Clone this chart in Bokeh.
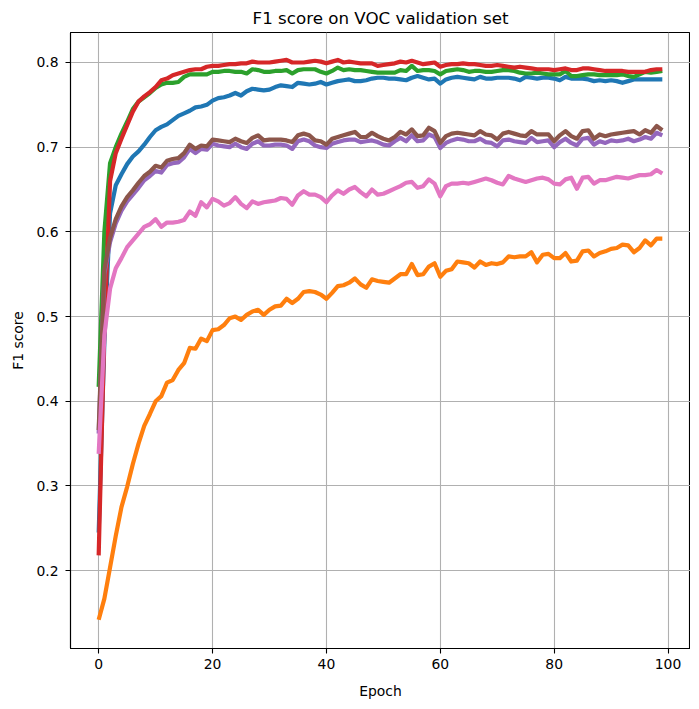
from bokeh.plotting import figure
from bokeh.models import Range1d, FixedTicker
from bokeh.embed import file_html
from bokeh.resources import INLINE

epochs = list(range(100))

blue = [0.245, 0.470, 0.622, 0.655, 0.668, 0.680, 0.689, 0.695, 0.703, 0.712,
        0.720, 0.724, 0.727, 0.732, 0.737, 0.740, 0.743, 0.747, 0.748, 0.750,
        0.755, 0.758, 0.759, 0.761, 0.764, 0.761, 0.766, 0.769, 0.768, 0.767,
        0.768, 0.771, 0.773, 0.772, 0.771, 0.776, 0.775, 0.774, 0.775, 0.777,
        0.774, 0.776, 0.778, 0.779, 0.780, 0.778, 0.778, 0.779, 0.781, 0.782,
        0.782, 0.781, 0.781, 0.780, 0.779, 0.782, 0.784, 0.782, 0.780, 0.781,
        0.775, 0.780, 0.782, 0.783, 0.782, 0.781, 0.780, 0.783, 0.781, 0.781,
        0.782, 0.782, 0.782, 0.781, 0.779, 0.783, 0.782, 0.781, 0.782, 0.782,
        0.781, 0.779, 0.783, 0.781, 0.781, 0.781, 0.780, 0.778, 0.779, 0.778,
        0.779, 0.778, 0.776, 0.778, 0.780, 0.780, 0.780, 0.780, 0.780, 0.780]

orange = [0.142, 0.167, 0.204, 0.241, 0.275, 0.299, 0.326, 0.350, 0.371, 0.385,
          0.400, 0.406, 0.422, 0.425, 0.437, 0.445, 0.463, 0.462, 0.474, 0.471,
          0.484, 0.485, 0.490, 0.498, 0.500, 0.496, 0.502, 0.506, 0.508, 0.502,
          0.508, 0.512, 0.513, 0.521, 0.516, 0.521, 0.529, 0.530, 0.529, 0.526,
          0.521, 0.528, 0.536, 0.537, 0.540, 0.545, 0.538, 0.534, 0.544, 0.542,
          0.541, 0.540, 0.545, 0.550, 0.550, 0.562, 0.549, 0.550, 0.559, 0.563,
          0.547, 0.554, 0.556, 0.565, 0.564, 0.563, 0.558, 0.565, 0.561, 0.563,
          0.562, 0.564, 0.571, 0.570, 0.571, 0.571, 0.576, 0.564, 0.573, 0.574,
          0.569, 0.569, 0.575, 0.565, 0.566, 0.577, 0.578, 0.571, 0.575, 0.577,
          0.580, 0.581, 0.585, 0.584, 0.576, 0.581, 0.590, 0.584, 0.592, 0.592]

green = [0.417, 0.600, 0.681, 0.700, 0.716, 0.730, 0.745, 0.754, 0.759, 0.764,
         0.770, 0.774, 0.776, 0.776, 0.777, 0.783, 0.786, 0.786, 0.786, 0.786,
         0.789, 0.789, 0.790, 0.790, 0.789, 0.789, 0.787, 0.792, 0.791, 0.789,
         0.789, 0.790, 0.790, 0.791, 0.787, 0.791, 0.792, 0.792, 0.792, 0.789,
         0.787, 0.790, 0.794, 0.791, 0.792, 0.791, 0.791, 0.790, 0.789, 0.788,
         0.788, 0.788, 0.788, 0.791, 0.790, 0.796, 0.790, 0.791, 0.791, 0.790,
         0.786, 0.790, 0.791, 0.792, 0.791, 0.789, 0.790, 0.790, 0.789, 0.789,
         0.790, 0.791, 0.791, 0.790, 0.788, 0.787, 0.787, 0.788, 0.787, 0.786,
         0.786, 0.786, 0.790, 0.784, 0.784, 0.785, 0.786, 0.786, 0.785, 0.785,
         0.785, 0.785, 0.786, 0.784, 0.783, 0.786, 0.789, 0.788, 0.789, 0.790]

red = [0.218, 0.485, 0.660, 0.693, 0.710, 0.726, 0.742, 0.754, 0.760, 0.765,
       0.771, 0.779, 0.781, 0.785, 0.787, 0.789, 0.791, 0.792, 0.792, 0.795,
       0.796, 0.796, 0.797, 0.798, 0.798, 0.799, 0.799, 0.801, 0.800, 0.800,
       0.800, 0.801, 0.802, 0.803, 0.800, 0.800, 0.800, 0.801, 0.802, 0.801,
       0.799, 0.801, 0.803, 0.800, 0.801, 0.800, 0.799, 0.799, 0.799, 0.796,
       0.797, 0.798, 0.799, 0.801, 0.800, 0.802, 0.800, 0.798, 0.799, 0.800,
       0.795, 0.797, 0.798, 0.798, 0.799, 0.798, 0.798, 0.797, 0.796, 0.796,
       0.797, 0.796, 0.795, 0.794, 0.795, 0.794, 0.793, 0.792, 0.792, 0.792,
       0.791, 0.792, 0.793, 0.791, 0.791, 0.793, 0.793, 0.792, 0.791, 0.790,
       0.790, 0.790, 0.790, 0.789, 0.789, 0.789, 0.789, 0.791, 0.792, 0.792]

purple = [0.362, 0.550, 0.588, 0.610, 0.625, 0.636, 0.644, 0.652, 0.661, 0.666,
          0.672, 0.670, 0.679, 0.681, 0.682, 0.688, 0.698, 0.693, 0.698, 0.697,
          0.704, 0.702, 0.701, 0.700, 0.704, 0.700, 0.698, 0.704, 0.707, 0.702,
          0.702, 0.703, 0.703, 0.702, 0.698, 0.707, 0.709, 0.707, 0.702, 0.700,
          0.699, 0.704, 0.706, 0.708, 0.709, 0.709, 0.706, 0.707, 0.708, 0.706,
          0.703, 0.702, 0.707, 0.711, 0.707, 0.714, 0.707, 0.708, 0.715, 0.712,
          0.699, 0.705, 0.708, 0.710, 0.709, 0.707, 0.707, 0.710, 0.706, 0.705,
          0.701, 0.708, 0.709, 0.707, 0.706, 0.705, 0.711, 0.706, 0.707, 0.708,
          0.700, 0.706, 0.710, 0.705, 0.702, 0.710, 0.711, 0.703, 0.707, 0.705,
          0.708, 0.707, 0.708, 0.710, 0.707, 0.709, 0.712, 0.710, 0.717, 0.714]

brown = [0.366, 0.555, 0.593, 0.615, 0.630, 0.641, 0.649, 0.658, 0.666, 0.671,
         0.678, 0.676, 0.684, 0.686, 0.687, 0.693, 0.703, 0.698, 0.702, 0.701,
         0.709, 0.708, 0.707, 0.706, 0.710, 0.707, 0.705, 0.711, 0.714, 0.708,
         0.709, 0.709, 0.709, 0.708, 0.706, 0.714, 0.716, 0.714, 0.708, 0.707,
         0.703, 0.710, 0.712, 0.714, 0.716, 0.718, 0.712, 0.712, 0.717, 0.713,
         0.710, 0.708, 0.712, 0.718, 0.715, 0.721, 0.713, 0.714, 0.723, 0.719,
         0.705, 0.713, 0.716, 0.717, 0.716, 0.715, 0.714, 0.719, 0.715, 0.714,
         0.709, 0.716, 0.718, 0.716, 0.714, 0.713, 0.719, 0.715, 0.715, 0.715,
         0.707, 0.714, 0.719, 0.713, 0.710, 0.719, 0.720, 0.710, 0.715, 0.713,
         0.715, 0.716, 0.717, 0.718, 0.719, 0.715, 0.720, 0.717, 0.725, 0.720]

pink = [0.338, 0.478, 0.533, 0.557, 0.569, 0.582, 0.590, 0.598, 0.606, 0.609,
        0.615, 0.606, 0.611, 0.611, 0.612, 0.614, 0.624, 0.619, 0.635, 0.629,
        0.639, 0.636, 0.631, 0.634, 0.641, 0.633, 0.628, 0.636, 0.633, 0.635,
        0.636, 0.637, 0.640, 0.639, 0.632, 0.643, 0.648, 0.644, 0.644, 0.641,
        0.635, 0.643, 0.649, 0.645, 0.650, 0.653, 0.647, 0.642, 0.650, 0.644,
        0.645, 0.648, 0.651, 0.654, 0.658, 0.659, 0.652, 0.654, 0.662, 0.657,
        0.642, 0.654, 0.657, 0.657, 0.658, 0.657, 0.659, 0.661, 0.663, 0.661,
        0.658, 0.656, 0.666, 0.663, 0.661, 0.659, 0.661, 0.663, 0.664, 0.662,
        0.657, 0.656, 0.662, 0.664, 0.651, 0.664, 0.665, 0.657, 0.661, 0.661,
        0.663, 0.665, 0.664, 0.663, 0.665, 0.667, 0.667, 0.668, 0.673, 0.669]

x_ticks = [0, 20, 40, 60, 80, 100]
y_ticks = [0.2, 0.3, 0.4, 0.5, 0.6, 0.7, 0.8]

series = [(blue, "#1f77b4"), (orange, "#ff7f0e"), (green, "#2ca02c"),
          (red, "#d62728"), (purple, "#9467bd"), (brown, "#8c564b"),
          (pink, "#e377c2")]

FONT = "DejaVu Sans"

p = figure(frame_width=620, frame_height=616, output_backend="svg",
           toolbar_location=None,
           x_range=Range1d(-4.95, 103.95), y_range=Range1d(0.1081, 0.8354),
           min_border_left=70, min_border_right=0, min_border_top=30,
           min_border_bottom=53, title="F1 score on VOC validation set")

p.background_fill_color = "white"
p.border_fill_color = "white"
p.outline_line_color = "black"
p.outline_line_width = 1.1

p.title.align = "center"
p.title.text_font = FONT
p.title.text_font_size = "16.7px"
p.title.text_font_style = "normal"
p.title.text_color = "black"
p.title.standoff = 10
p.title.offset = 0

p.xaxis.ticker = FixedTicker(ticks=x_ticks)
p.yaxis.ticker = FixedTicker(ticks=y_ticks)
p.xaxis.axis_label = "Epoch"
p.yaxis.axis_label = "F1 score"
for ax in (p.xaxis, p.yaxis):
    ax.axis_label_text_font = FONT
    ax.axis_label_text_font_size = "13.9px"
    ax.axis_label_text_font_style = "normal"
    ax.axis_label_text_color = "black"
    ax.major_label_text_font = FONT
    ax.major_label_text_font_size = "13.9px"
    ax.major_label_text_color = "black"
    ax.major_tick_out = 5
    ax.major_tick_in = 0
    ax.minor_tick_out = 0
    ax.minor_tick_in = 0
    ax.major_tick_line_width = 1.1
    ax.major_tick_line_color = "black"
    ax.axis_line_color = "black"
    ax.axis_line_width = 1.1
p.xaxis.major_label_standoff = 5
p.yaxis.major_label_standoff = 7
p.xaxis.axis_label_standoff = 11
p.yaxis.axis_label_standoff = 7

p.xgrid.ticker = FixedTicker(ticks=x_ticks)
p.ygrid.ticker = FixedTicker(ticks=y_ticks)
p.grid.grid_line_color = "#b0b0b0"
p.grid.grid_line_width = 1.1

for vals, col in series:
    p.line(epochs, vals, line_color=col, line_width=4.2, line_join="round")

open("out.html", "w").write(file_html(p, INLINE))
